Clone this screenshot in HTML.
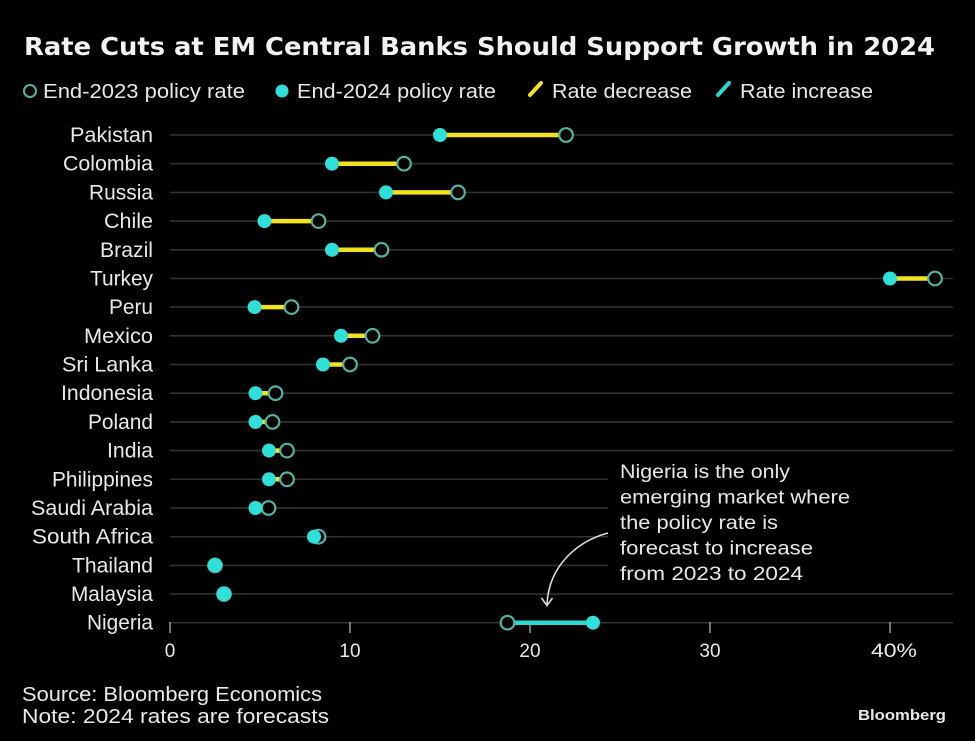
<!DOCTYPE html>
<html>
<head>
<meta charset="utf-8">
<style>
html,body{margin:0;padding:0;background:#000;}
svg{display:block;}
text{font-family:"Liberation Sans",Arial,sans-serif;fill:#e8e8e8;}
.lbl{font-size:21px;text-anchor:end;}
.tick{font-size:19px;text-anchor:middle;}
.ann{font-size:19.5px;}
</style>
</head>
<body>
<svg width="975" height="741" viewBox="0 0 975 741" xmlns="http://www.w3.org/2000/svg">
<rect x="0" y="0" width="975" height="741" fill="#000"/>

<!-- Title -->
<text x="24" y="55" style="font-family:'DejaVu Sans','Liberation Sans',sans-serif;font-weight:bold;font-size:24.5px;fill:#f2f2f2" textLength="911" lengthAdjust="spacingAndGlyphs">Rate Cuts at EM Central Banks Should Support Growth in 2024</text>

<!-- Legend -->
<circle cx="30" cy="91" r="6" fill="#000" stroke="#52b3a2" stroke-width="2"/>
<text x="43" y="98" style="font-size:20.5px" textLength="202" lengthAdjust="spacingAndGlyphs">End-2023 policy rate</text>
<circle cx="282" cy="91" r="6.5" fill="#2ee0d9"/>
<text x="297" y="98" style="font-size:20.5px" textLength="199" lengthAdjust="spacingAndGlyphs">End-2024 policy rate</text>
<line x1="530" y1="95" x2="541" y2="83" stroke="#f3e21e" stroke-width="4" stroke-linecap="round"/>
<text x="552" y="98" style="font-size:20.5px" textLength="140" lengthAdjust="spacingAndGlyphs">Rate decrease</text>
<line x1="718" y1="95" x2="729" y2="83" stroke="#2ad9d2" stroke-width="4" stroke-linecap="round"/>
<text x="740" y="98" style="font-size:20.5px" textLength="133" lengthAdjust="spacingAndGlyphs">Rate increase</text>

<!-- Gridlines -->
<g stroke="#323232" stroke-width="1.6">
<line x1="170" y1="135" x2="953" y2="135"/>
<line x1="170" y1="163.7" x2="953" y2="163.7"/>
<line x1="170" y1="192.4" x2="953" y2="192.4"/>
<line x1="170" y1="221.1" x2="953" y2="221.1"/>
<line x1="170" y1="249.8" x2="953" y2="249.8"/>
<line x1="170" y1="278.5" x2="953" y2="278.5"/>
<line x1="170" y1="307.1" x2="953" y2="307.1"/>
<line x1="170" y1="335.8" x2="953" y2="335.8"/>
<line x1="170" y1="364.5" x2="953" y2="364.5"/>
<line x1="170" y1="393.2" x2="953" y2="393.2"/>
<line x1="170" y1="421.9" x2="953" y2="421.9"/>
<line x1="170" y1="450.6" x2="953" y2="450.6"/>
<line x1="170" y1="479.3" x2="608" y2="479.3"/>
<line x1="170" y1="508.0" x2="608" y2="508.0"/>
<line x1="170" y1="536.7" x2="608" y2="536.7"/>
<line x1="170" y1="565.4" x2="608" y2="565.4"/>
<line x1="170" y1="594.0" x2="953" y2="594.0"/>
<line x1="170" y1="622.7" x2="953" y2="622.7"/>
</g>

<!-- Ticks -->
<g stroke="#9a9a9a" stroke-width="1.5">
<line x1="170" y1="622" x2="170" y2="633"/>
<line x1="350" y1="622" x2="350" y2="633"/>
<line x1="530" y1="622" x2="530" y2="633"/>
<line x1="710" y1="622" x2="710" y2="633"/>
<line x1="890" y1="622" x2="890" y2="633"/>
</g>
<text class="tick" x="170" y="657">0</text>
<text class="tick" x="350" y="657">10</text>
<text class="tick" x="530" y="657">20</text>
<text class="tick" x="710" y="657">30</text>
<text x="871" y="657" style="font-size:19px" textLength="46" lengthAdjust="spacingAndGlyphs">40%</text>

<!-- Country labels -->
<text class="lbl" x="153" y="142" textLength="83" lengthAdjust="spacingAndGlyphs">Pakistan</text>
<text class="lbl" x="153" y="170.7" textLength="90" lengthAdjust="spacingAndGlyphs">Colombia</text>
<text class="lbl" x="153" y="199.4" textLength="64" lengthAdjust="spacingAndGlyphs">Russia</text>
<text class="lbl" x="153" y="228.1" textLength="49" lengthAdjust="spacingAndGlyphs">Chile</text>
<text class="lbl" x="153" y="256.8" textLength="53" lengthAdjust="spacingAndGlyphs">Brazil</text>
<text class="lbl" x="153" y="285.5" textLength="63" lengthAdjust="spacingAndGlyphs">Turkey</text>
<text class="lbl" x="153" y="314.1" textLength="44" lengthAdjust="spacingAndGlyphs">Peru</text>
<text class="lbl" x="153" y="342.8" textLength="69" lengthAdjust="spacingAndGlyphs">Mexico</text>
<text class="lbl" x="153" y="371.5" textLength="91" lengthAdjust="spacingAndGlyphs">Sri Lanka</text>
<text class="lbl" x="153" y="400.2" textLength="92" lengthAdjust="spacingAndGlyphs">Indonesia</text>
<text class="lbl" x="153" y="428.9" textLength="65" lengthAdjust="spacingAndGlyphs">Poland</text>
<text class="lbl" x="153" y="457.6" textLength="46" lengthAdjust="spacingAndGlyphs">India</text>
<text class="lbl" x="153" y="486.3" textLength="101" lengthAdjust="spacingAndGlyphs">Philippines</text>
<text class="lbl" x="153" y="515.0" textLength="122" lengthAdjust="spacingAndGlyphs">Saudi Arabia</text>
<text class="lbl" x="153" y="543.7" textLength="121" lengthAdjust="spacingAndGlyphs">South Africa</text>
<text class="lbl" x="153" y="572.4" textLength="81" lengthAdjust="spacingAndGlyphs">Thailand</text>
<text class="lbl" x="153" y="601.0" textLength="82" lengthAdjust="spacingAndGlyphs">Malaysia</text>
<text class="lbl" x="153" y="629.7" textLength="66" lengthAdjust="spacingAndGlyphs">Nigeria</text>

<!-- Range lines -->
<g stroke="#f3e21e" stroke-width="4.5">
<line x1="440" y1="135" x2="566" y2="135"/>
<line x1="332" y1="163.7" x2="404" y2="163.7"/>
<line x1="386" y1="192.4" x2="458" y2="192.4"/>
<line x1="264.5" y1="221.1" x2="318.5" y2="221.1"/>
<line x1="332" y1="249.8" x2="381.5" y2="249.8"/>
<line x1="890" y1="278.5" x2="935" y2="278.5"/>
<line x1="254.6" y1="307.1" x2="291.5" y2="307.1"/>
<line x1="341" y1="335.8" x2="372.5" y2="335.8"/>
<line x1="323" y1="364.5" x2="350" y2="364.5"/>
<line x1="255.5" y1="393.2" x2="275.5" y2="393.2"/>
<line x1="255.5" y1="421.9" x2="272.5" y2="421.9"/>
<line x1="269" y1="450.6" x2="287" y2="450.6"/>
<line x1="269" y1="479.3" x2="287" y2="479.3"/>
<line x1="255.5" y1="508.0" x2="268.5" y2="508.0"/>
</g>
<line x1="507.5" y1="622.7" x2="593" y2="622.7" stroke="#2ad9d2" stroke-width="4.5"/>

<!-- End-2023 hollow markers -->
<g fill="#000" stroke="#52b3a2" stroke-width="2.2">
<circle cx="566" cy="135" r="6.8"/>
<circle cx="404" cy="163.7" r="6.8"/>
<circle cx="458" cy="192.4" r="6.8"/>
<circle cx="318.5" cy="221.1" r="6.8"/>
<circle cx="381.5" cy="249.8" r="6.8"/>
<circle cx="935" cy="278.5" r="6.8"/>
<circle cx="291.5" cy="307.1" r="6.8"/>
<circle cx="372.5" cy="335.8" r="6.8"/>
<circle cx="350" cy="364.5" r="6.8"/>
<circle cx="275.5" cy="393.2" r="6.8"/>
<circle cx="272.5" cy="421.9" r="6.8"/>
<circle cx="287" cy="450.6" r="6.8"/>
<circle cx="287" cy="479.3" r="6.8"/>
<circle cx="268.5" cy="508.0" r="6.8"/>
<circle cx="318.5" cy="536.7" r="6.8"/>
<circle cx="215" cy="565.4" r="6.8"/>
<circle cx="224" cy="594.0" r="6.8"/>
<circle cx="507.5" cy="622.7" r="6.8"/>
</g>

<!-- End-2024 filled markers -->
<g fill="#2ee0d9">
<circle cx="440" cy="135" r="7"/>
<circle cx="332" cy="163.7" r="7"/>
<circle cx="386" cy="192.4" r="7"/>
<circle cx="264.5" cy="221.1" r="7"/>
<circle cx="332" cy="249.8" r="7"/>
<circle cx="890" cy="278.5" r="7"/>
<circle cx="254.6" cy="307.1" r="7"/>
<circle cx="341" cy="335.8" r="7"/>
<circle cx="323" cy="364.5" r="7"/>
<circle cx="255.5" cy="393.2" r="7"/>
<circle cx="255.5" cy="421.9" r="7"/>
<circle cx="269" cy="450.6" r="7"/>
<circle cx="269" cy="479.3" r="7"/>
<circle cx="255.5" cy="508.0" r="7"/>
<circle cx="314" cy="536.7" r="7"/>
<circle cx="215" cy="565.4" r="7"/>
<circle cx="224" cy="594.0" r="7"/>
<circle cx="593" cy="622.7" r="7"/>
</g>

<!-- Annotation -->
<text class="ann" x="620" y="478" textLength="170" lengthAdjust="spacingAndGlyphs">Nigeria is the only</text>
<text class="ann" x="620" y="503.5" textLength="230" lengthAdjust="spacingAndGlyphs">emerging market where</text>
<text class="ann" x="620" y="529" textLength="158" lengthAdjust="spacingAndGlyphs">the policy rate is</text>
<text class="ann" x="620" y="554.5" textLength="193" lengthAdjust="spacingAndGlyphs">forecast to increase</text>
<text class="ann" x="620" y="580" textLength="183" lengthAdjust="spacingAndGlyphs">from 2023 to 2024</text>
<path d="M608,533 C578,541 549,565 547,604" fill="none" stroke="#dcdcdc" stroke-width="1.6"/>
<path d="M541.5,598 L547,605.5 L552.5,598" fill="none" stroke="#dcdcdc" stroke-width="1.6"/>

<!-- Footer -->
<text x="22" y="701" style="font-size:20px" textLength="300" lengthAdjust="spacingAndGlyphs">Source: Bloomberg Economics</text>
<text x="22" y="723" style="font-size:20px" textLength="307" lengthAdjust="spacingAndGlyphs">Note: 2024 rates are forecasts</text>
<text x="858" y="720" style="font-size:14.5px;font-weight:bold" textLength="88" lengthAdjust="spacingAndGlyphs">Bloomberg</text>
</svg>
</body>
</html>
